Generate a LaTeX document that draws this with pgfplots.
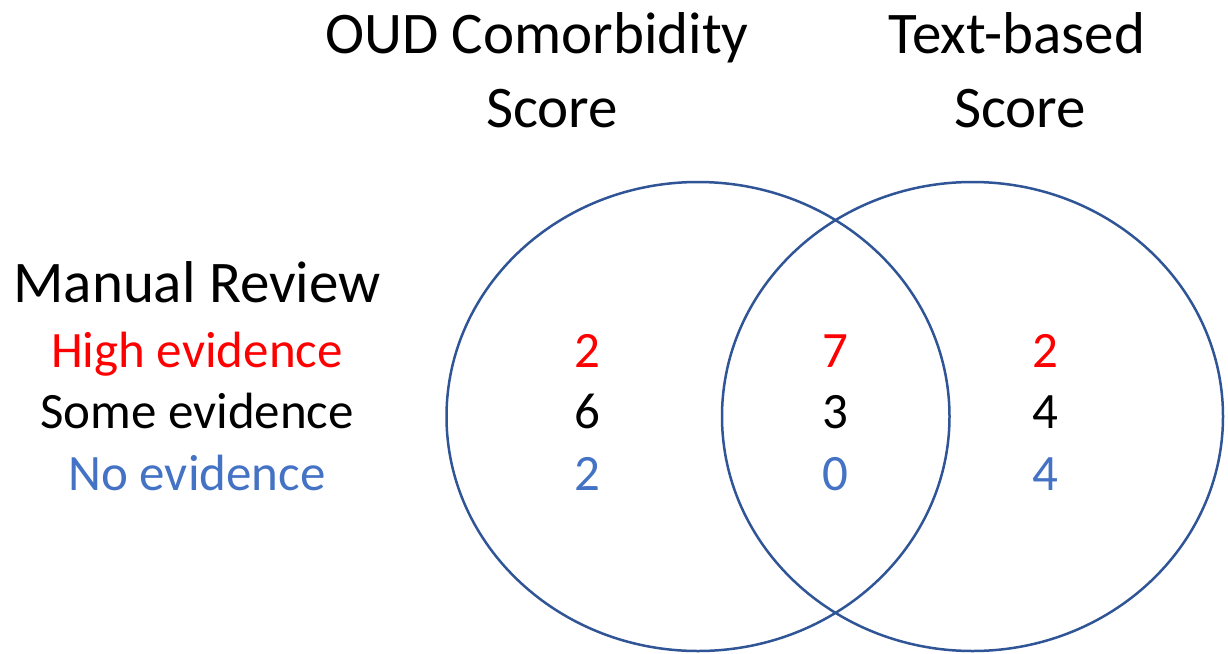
\documentclass[border=0pt]{standalone}
\usepackage{pgfplots}
\pgfplotsset{compat=1.18}
\usepackage{fontspec}
\setmainfont{Carlito}
\definecolor{circ}{RGB}{47,85,151}
\definecolor{hi}{RGB}{255,0,0}
\definecolor{no}{RGB}{68,114,196}
\begin{document}
\begin{tikzpicture}
\begin{axis}[
  width=614pt, height=327pt, scale only axis,
  xmin=0, xmax=1228, ymin=0, ymax=654, y dir=reverse,
  hide axis, clip=false,
  every node near coord/.append style={anchor=base, inner sep=0pt, font=\fontsize{25.5}{30}\selectfont},
]
% circles (centres and radii in pixels of the reference)
\draw[circ, line width=1.25pt] (axis cs:698,416.5) ellipse [x radius=251.5, y radius=234.5];
\draw[circ, line width=1.25pt] (axis cs:972.5,416.5) ellipse [x radius=250.5, y radius=234.5];
% counts
\addplot[draw=none, mark=none, nodes near coords, point meta=explicit symbolic,
  every node near coord/.append style={text=hi}]
  coordinates {(587,367)[2] (835,367)[7] (1045,367)[2]};
\addplot[draw=none, mark=none, nodes near coords, point meta=explicit symbolic,
  every node near coord/.append style={text=black}]
  coordinates {(587,428)[6] (835,428)[3] (1045,428)[4]};
\addplot[draw=none, mark=none, nodes near coords, point meta=explicit symbolic,
  every node near coord/.append style={text=no}]
  coordinates {(587,490)[2] (835,490)[0] (1045,490)[4]};
% titles
\node[anchor=base, inner sep=0pt, font=\fontsize{29.5}{34}\selectfont] at (axis cs:537,53) {OUD Comorbidity};
\node[anchor=base, inner sep=0pt, font=\fontsize{29.5}{34}\selectfont] at (axis cs:552,127) {Score};
\node[anchor=base, inner sep=0pt, font=\fontsize{29.5}{34}\selectfont] at (axis cs:1017,53) {Text-based};
\node[anchor=base, inner sep=0pt, font=\fontsize{29.5}{34}\selectfont] at (axis cs:1020,127) {Score};
% legend of row colours
\node[anchor=base, inner sep=0pt, font=\fontsize{29.5}{34}\selectfont] at (axis cs:197,302) {Manual Review};
\node[anchor=base, inner sep=0pt, text=hi, font=\fontsize{25.5}{30}\selectfont] at (axis cs:197,367) {High evidence};
\node[anchor=base, inner sep=0pt, font=\fontsize{25.5}{30}\selectfont] at (axis cs:197,428) {Some evidence};
\node[anchor=base, inner sep=0pt, text=no, font=\fontsize{25.5}{30}\selectfont] at (axis cs:197,490) {No evidence};
\end{axis}
\pgfresetboundingbox
\path (0,0) rectangle (614pt,327pt);
\end{tikzpicture}
\end{document}
